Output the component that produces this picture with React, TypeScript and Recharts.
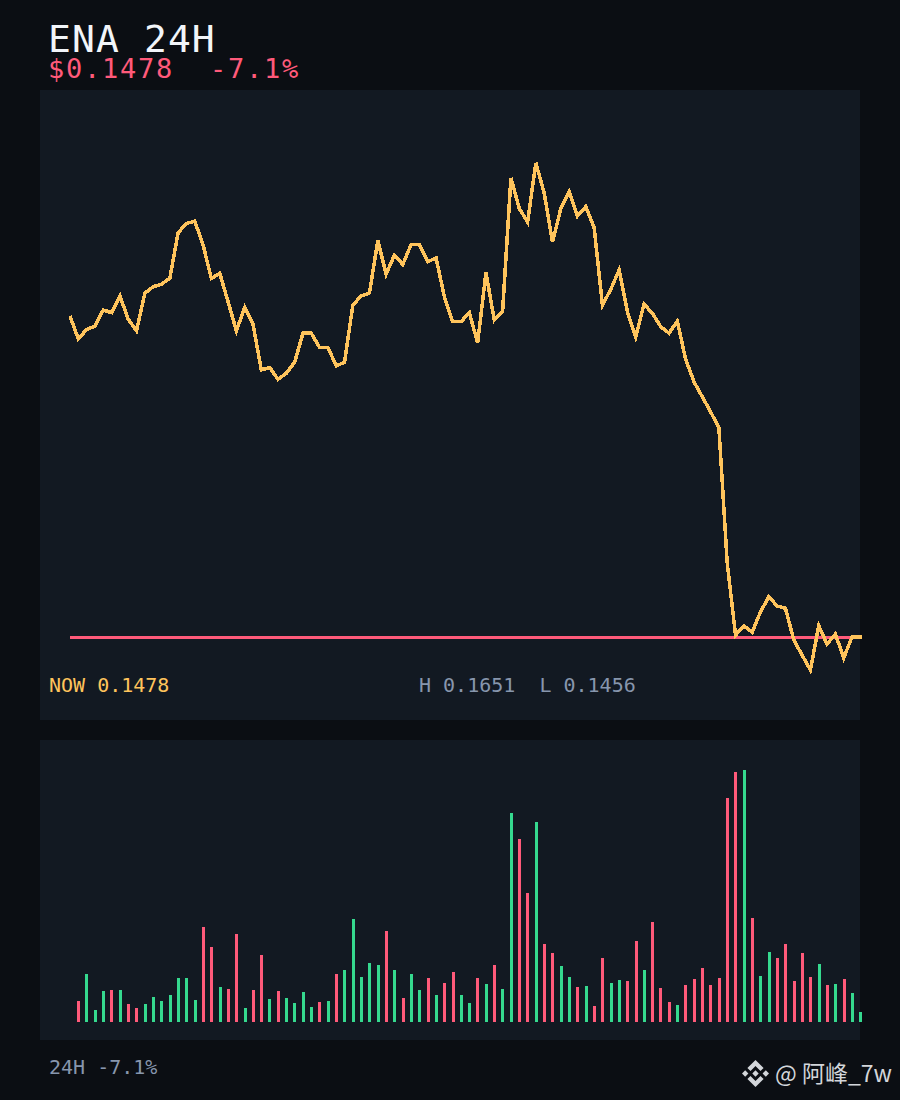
import React from "react";
import { LineChart, Line, BarChart, Bar, XAxis, YAxis, ReferenceLine } from "recharts";

const priceValues = [
  0.15952, 0.15868, 0.15903, 0.15915, 0.15974, 0.15964, 0.16025, 0.1594, 0.15898, 0.16035,
  0.16059, 0.16068, 0.1609, 0.16256, 0.1629, 0.16298, 0.16211, 0.16089, 0.16108, 0.16004,
  0.15898, 0.15983, 0.15922, 0.15755, 0.15764, 0.15721, 0.15743, 0.15783, 0.15889, 0.15889,
  0.15837, 0.15837, 0.1577, 0.15783, 0.15992, 0.16025, 0.16036, 0.16227, 0.16105, 0.16174,
  0.1614, 0.16213, 0.16213, 0.1615, 0.16164, 0.16022, 0.15931, 0.15931, 0.15964, 0.15854,
  0.1611, 0.15937, 0.1597, 0.16456, 0.16345, 0.16295, 0.16511, 0.164, 0.16222, 0.16345,
  0.16405, 0.16317, 0.16351, 0.16275, 0.15992, 0.16049, 0.1612, 0.15967, 0.15876, 0.15995,
  0.15962, 0.15913, 0.15889, 0.15933, 0.15794, 0.15712, 0.15657, 0.15602, 0.15544, 0.1505,
  0.14787, 0.14821, 0.14797, 0.14872, 0.14927, 0.14893, 0.14885, 0.14769, 0.14714, 0.1466,
  0.14821, 0.14754, 0.14791, 0.14704, 0.1478, 0.1478,
];
const priceSteps = priceValues.map((_, i) => (i === 95 ? 95.2 : i));
const nowPrice = 0.1478;

const volumeValues = [
  21, 48, 12, 31, 32, 32, 18, 14, 18, 25, 21, 27, 44, 44, 22, 95, 75, 35, 33, 88,
  14, 32, 67, 23, 31, 24, 19, 30, 15, 20, 21, 48, 52, 103, 45, 59, 57, 91, 52, 24,
  48, 32, 44, 27, 39, 50, 27, 19, 44, 38, 57, 33, 209, 183, 129, 200, 78, 69, 56, 45,
  35, 36, 16, 64, 39, 42, 41, 81, 52, 100, 34, 20, 17, 37, 43, 54, 37, 44, 224, 250,
  252, 104, 46, 70, 64, 78, 41, 69, 45, 58, 37, 38, 43, 29, 10,
];
const volumeSides = [
  "d", "u", "u", "u", "d", "u", "d", "d", "u", "u", "u", "u", "u", "u", "u", "d", "d", "u", "d", "d",
  "u", "d", "d", "u", "d", "u", "u", "u", "u", "d", "u", "d", "u", "u", "u", "u", "u", "d", "u", "d",
  "u", "u", "d", "u", "d", "d", "u", "u", "d", "u", "d", "u", "u", "d", "d", "u", "d", "d", "u", "u",
  "d", "u", "d", "d", "u", "u", "d", "d", "u", "d", "d", "d", "u", "d", "d", "d", "d", "d", "d", "d",
  "u", "d", "u", "u", "d", "d", "d", "d", "d", "u", "d", "u", "d", "u", "u",
];

const priceData = priceValues.map((price, i) => ({ step: priceSteps[i], price }));
const volumeData = volumeValues.map((volume, i) => ({ step: i, volume, side: volumeSides[i] }));

const BG = "#0b0e13";
const PANEL = "#121922";
const AMBER = "#ffc45c";
const RED = "#ff5a7a";
const GREEN = "#35d98f";
const SLATE = "#8796ad";
const MONO = "'DejaVu Sans Mono', monospace";

const full: React.CSSProperties = { position: "absolute", left: 0, top: 0 };

function PixelBar(props: any) {
  const { x, y, height, payload } = props;
  const left = Math.round(x);
  const top = Math.round(y);
  const bottom = Math.round(y + height);
  return (
    <rect
      x={left}
      y={top}
      width={3}
      height={bottom - top}
      fill={payload.side === "u" ? GREEN : RED}
      shapeRendering="crispEdges"
    />
  );
}

export default function App() {
  return (
    <div style={{ ...full, width: 900, height: 1100, background: BG, overflow: "hidden" }}>
      <div style={{ position: "absolute", left: 40, top: 90, width: 820, height: 630, background: PANEL }} />
      <div style={{ position: "absolute", left: 40, top: 740, width: 820, height: 300, background: PANEL }} />

      <div style={full}>
        <LineChart width={900} height={1100} data={priceData} margin={{ left: 70, right: 38, top: 90, bottom: 380 }}>
          <XAxis type="number" dataKey="step" domain={[0, 95.2]} hide />
          <YAxis type="number" domain={[0.14477, 0.16777]} hide />
          <ReferenceLine y={nowPrice} stroke={RED} strokeWidth={3} shapeRendering="crispEdges" />
          <Line
            dataKey="price"
            type="linear"
            stroke={AMBER}
            strokeWidth={3.5}
            dot={false}
            isAnimationActive={false}
            shapeRendering="crispEdges"
          />
        </LineChart>
      </div>

      <div style={full}>
        <BarChart width={900} height={1100} data={volumeData} margin={{ left: 74.14, right: 35.54, top: 770, bottom: 78 }}>
          <XAxis dataKey="step" hide />
          <YAxis type="number" domain={[0, 252]} hide />
          <Bar dataKey="volume" barSize={3} isAnimationActive={false} shape={PixelBar} />
        </BarChart>
      </div>

      <svg width={900} height={1100} style={{ ...full, pointerEvents: "none" }}>
        <text x={48} y={52} fontFamily={MONO} fontSize={38} letterSpacing={1.1} fill="#f2f5f9">ENA 24H</text>
        <text x={48} y={78} fontFamily={MONO} fontSize={27} letterSpacing={1.75} fill={RED} xmlSpace="preserve">{"$0.1478  -7.1%"}</text>
        <text x={49} y={692} fontFamily={MONO} fontSize={20} fill={AMBER}>NOW 0.1478</text>
        <text x={419} y={692} fontFamily={MONO} fontSize={20} fill={SLATE} xmlSpace="preserve">{"H 0.1651  L 0.1456"}</text>
        <text x={49} y={1074} fontFamily={MONO} fontSize={20} fill={SLATE}>24H -7.1%</text>
        <g fill="#d3d6da" transform="translate(755.5 1073.5)">
          <path d="M0-13.5L8.1-5.4 5-2.4 0-7.4-5-2.4-8.1-5.4z" />
          <path d="M0 13.5L8.1 5.4 5 2.4 0 7.4-5 2.4-8.1 5.4z" />
          <path d="M-10.3-3.2L-7.1 0-10.3 3.2-13.5 0z" />
          <path d="M10.3-3.2L13.5 0 10.3 3.2 7.1 0z" />
          <path d="M0-3.2L3.2 0 0 3.2-3.2 0z" />
        </g>
        <text x={775} y={1082} fontFamily="'Noto Sans CJK SC', 'Noto Sans', sans-serif" fontSize={23} fill="#d3d6da">@ 阿峰_7w</text>
      </svg>
    </div>
  );
}
